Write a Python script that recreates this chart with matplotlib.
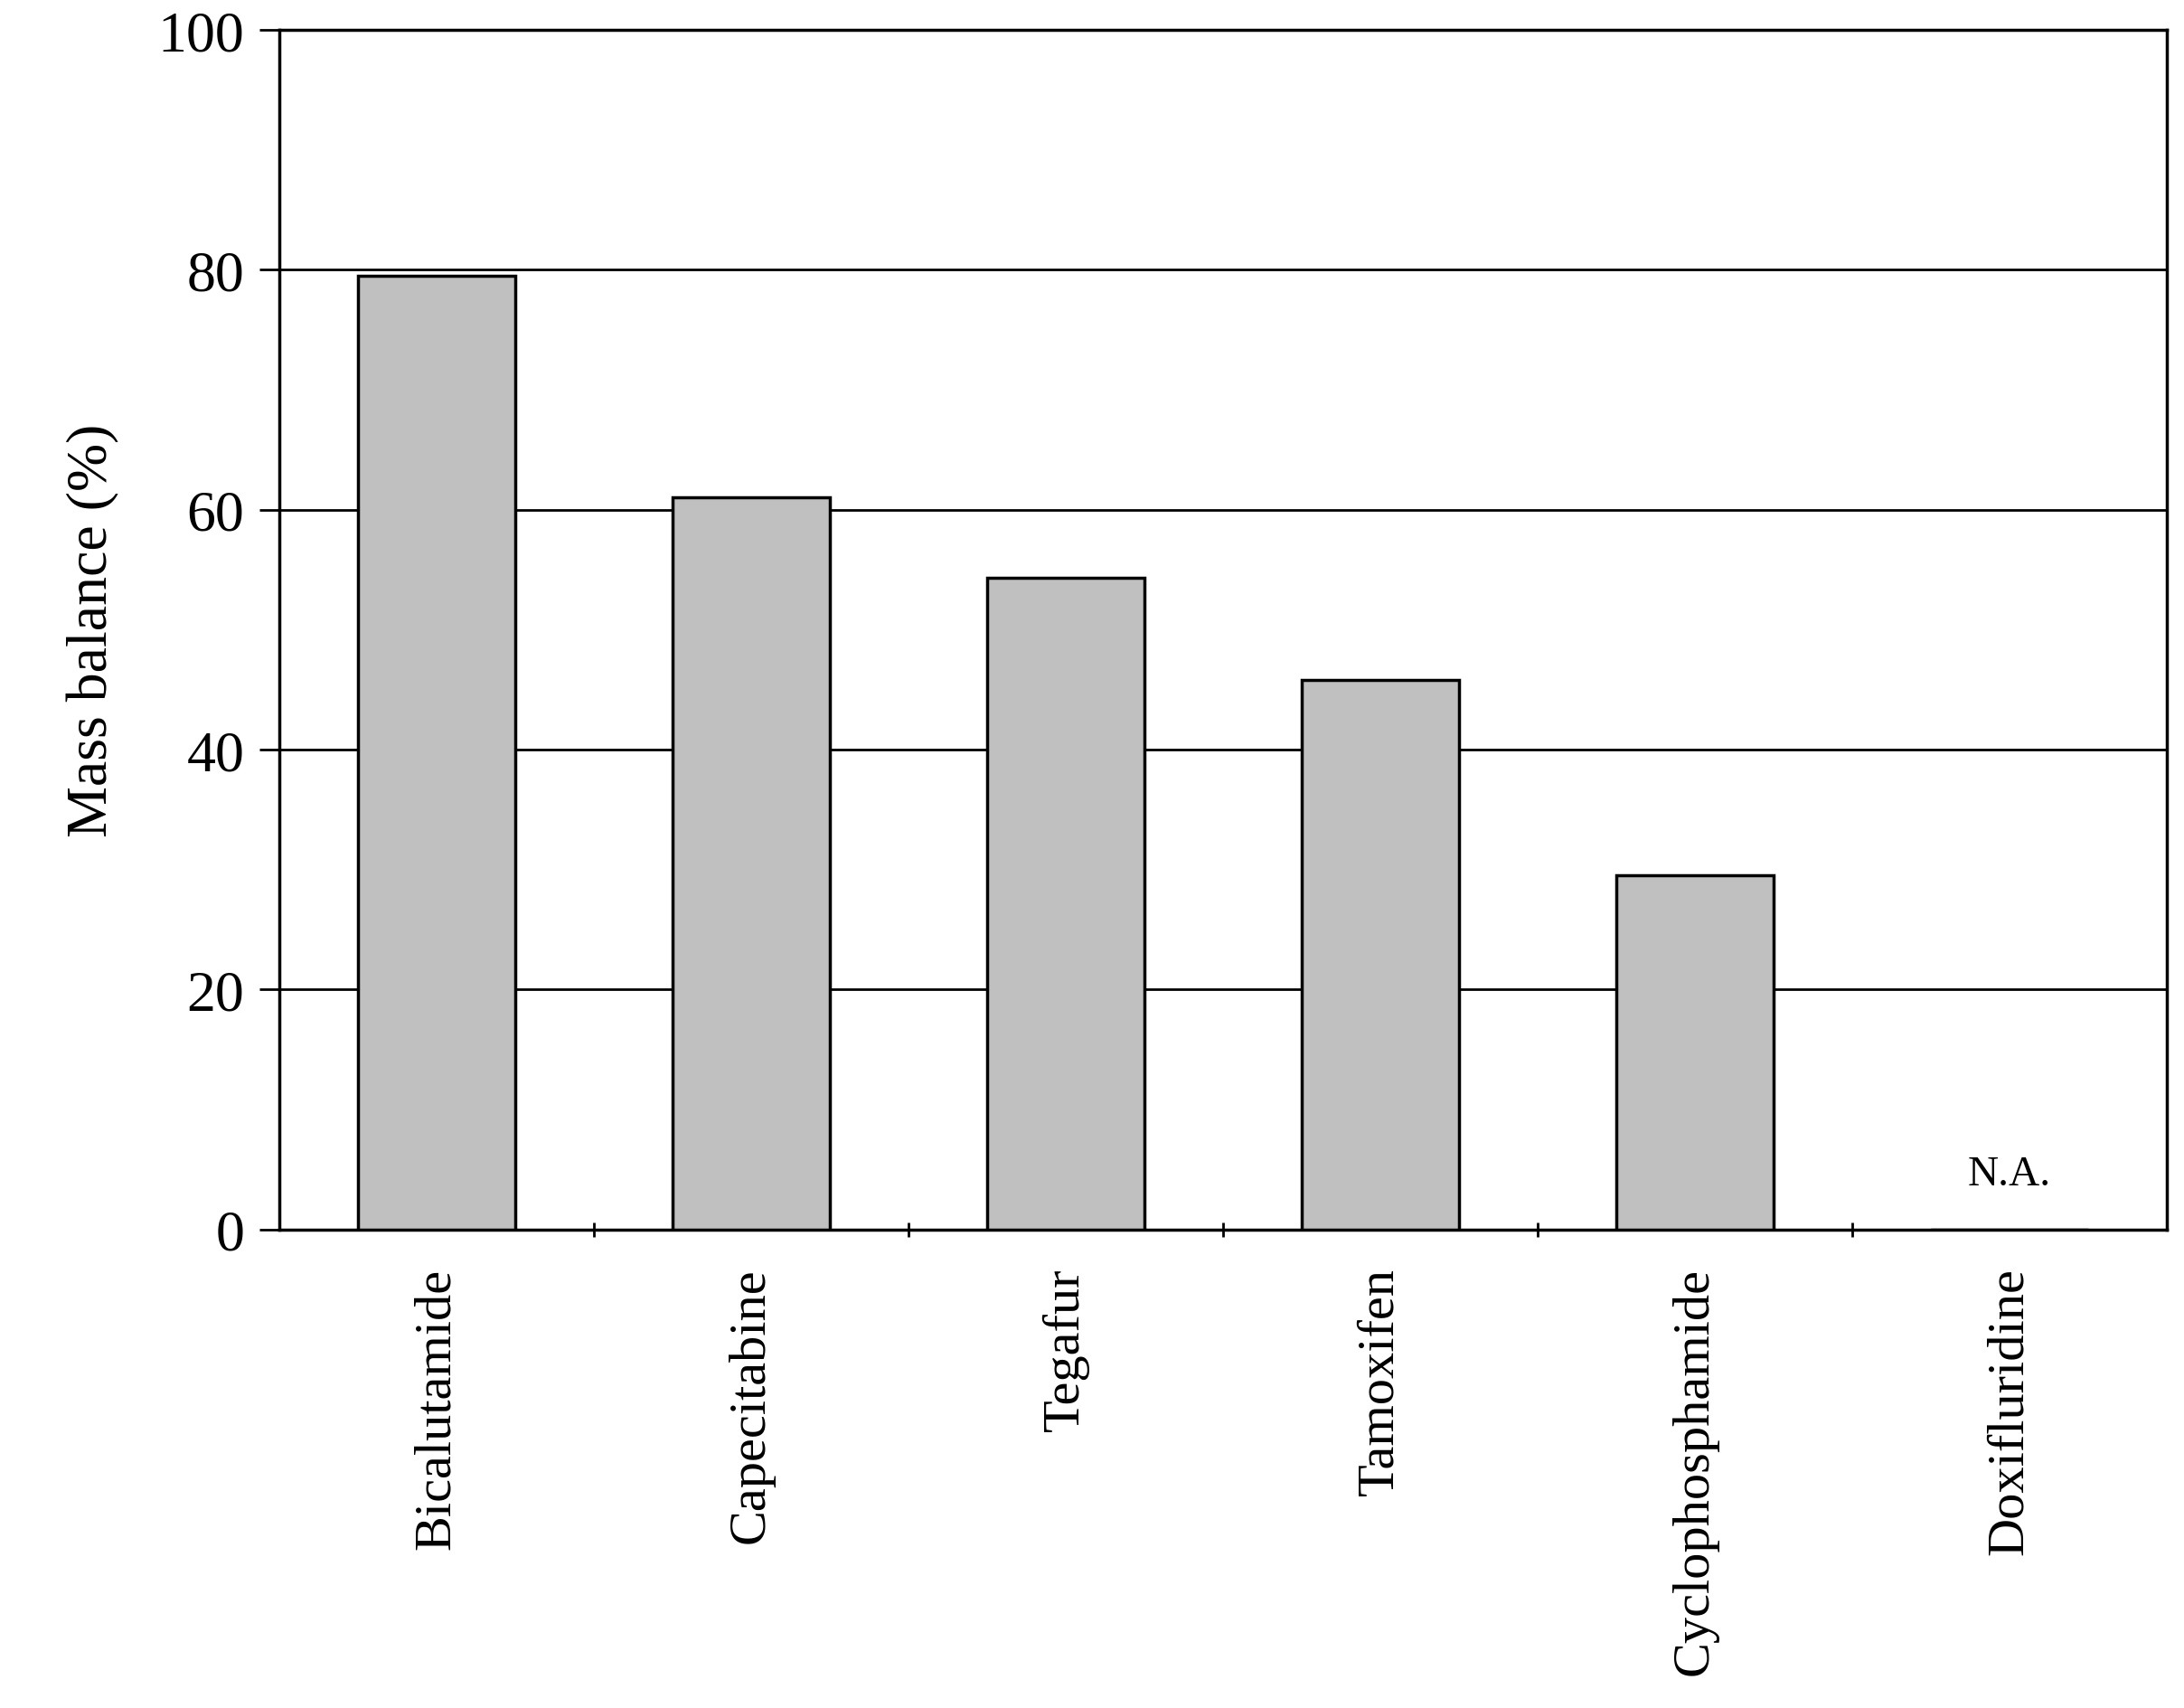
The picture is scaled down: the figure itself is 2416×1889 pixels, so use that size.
import matplotlib
matplotlib.use("Agg")
import matplotlib.pyplot as plt
import numpy as np

categories = ["Bicalutamide", "Capecitabine", "Tegafur", "Tamoxifen", "Cyclophosphamide", "Doxifluridine"]
values = [79.5, 61.0, 54.3, 45.8, 29.5, np.nan]
yticks = [0, 20, 40, 60, 80, 100]

plt.rcParams['font.family'] = ['Liberation Serif', 'DejaVu Serif']
fig = plt.figure(figsize=(24.16, 18.9), dpi=100)
ax = fig.add_axes([0.128, 0.280, 0.864, 0.702])
x = np.arange(len(categories))
ax.bar(x, np.nan_to_num(values), width=0.5, color="#c0c0c0", edgecolor="black", linewidth=2.5, zorder=3)
for i, v in enumerate(values):
    if np.isnan(v):
        ax.text(i, 3, "N.A.", ha="center", va="bottom", fontsize=34)
ax.set_ylim(0, 100)
ax.set_xlim(-0.5, len(categories) - 0.5)
ax.set_yticks(yticks)
ax.set_yticklabels([str(t) for t in yticks], fontsize=46)
ax.yaxis.grid(True, color="black", linewidth=2)
ax.set_xticks(x)
ax.set_xticklabels(categories, rotation=90, fontsize=42)
ax.tick_params(axis="x", length=0, pad=30)
ax.set_xticks(np.arange(0.5, len(categories) - 0.5), minor=True)
ax.tick_params(axis="x", which="minor", length=12, width=2, direction="inout")
ax.tick_params(axis="y", length=16, width=2, direction="out", pad=12)
ax.set_ylabel("Mass balance (%)", fontsize=46, labelpad=30)
for s in ax.spines.values():
    s.set_linewidth(2.5)
fig.savefig("out.png", dpi=100)
